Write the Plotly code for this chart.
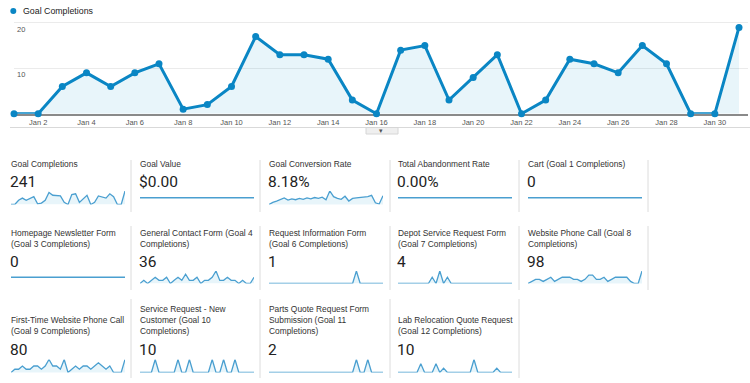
import plotly.graph_objects as go
import pandas as pd

W, H = 750, 383

# ---------------- data ----------------
dates = pd.date_range("2019-01-01", periods=31, freq="D")
goal_completions = [0, 0, 6, 9, 6, 9, 11, 1, 2, 6, 17, 13, 13, 12, 3, 0,
                    14, 15, 3, 8, 13, 0, 3, 12, 11, 9, 15, 11, 0, 0, 19]
y_tick_vals = [10, 20]
y_tick_labels = ["10", "20"]
x_tick_dates = list(dates[1::2])
x_tick_labels = ["Jan 2", "Jan 4", "Jan 6", "Jan 8", "Jan 10", "Jan 12", "Jan 14", "Jan 16",
                 "Jan 18", "Jan 20", "Jan 22", "Jan 24", "Jan 26", "Jan 28", "Jan 30"]
legend_label = "Goal Completions"

zero_series = [0, 0, 0, 0, 0, 0, 0, 0, 0, 0, 0, 0, 0, 0, 0, 0,
               0, 0, 0, 0, 0, 0, 0, 0, 0, 0, 0, 0, 0, 0, 0]
conversion_rate = [2.0, 4.5, 6.0, 7.5, 9.5, 7.0, 8.5, 7.5, 9.0, 8.0, 9.5, 8.5, 10.0, 9.0, 10.5, 7.5,
                   17.5, 11.0, 9.0, 8.0, 11.5, 6.0, 9.0, 9.5, 10.0, 10.5, 11.0, 12.5, 4.0, 2.5, 12.0]
goal4 = [0, 1, 0, 1, 2, 1, 1, 2, 0, 1, 2, 1, 3, 1, 1, 2,
         0, 1, 1, 2, 4, 1, 1, 2, 1, 1, 0, 1, 0, 0, 2]
goal6 = [0, 0, 0, 0, 0, 0, 0, 0, 0, 0, 0, 0, 0, 0, 0, 0,
         0, 0, 0, 0, 0, 0, 0, 1, 0, 0, 0, 0, 0, 0, 0]
goal7 = [0, 0, 0, 0, 0, 0, 0, 0, 0, 1, 0, 2, 0, 1, 0, 0,
         0, 0, 0, 0, 0, 0, 0, 0, 0, 0, 0, 0, 0, 0, 0]
goal8 = [1, 2, 3, 3, 2, 3, 4, 2, 3, 4, 4, 4, 3, 3, 2, 3,
         5, 5, 3, 3, 4, 2, 3, 4, 4, 4, 4, 2, 1, 1, 7]
goal9 = [1, 2, 2, 3, 2, 2, 3, 3, 2, 3, 5, 3, 3, 2, 5, 1,
         2, 3, 2, 3, 3, 2, 3, 4, 3, 2, 3, 1, 1, 1, 5]
goal10 = [0, 0, 0, 0, 1, 0, 0, 0, 0, 0, 1, 0, 0, 1, 0, 0,
          0, 0, 0, 1, 0, 0, 1, 0, 0, 1, 0, 0, 0, 0, 0]
goal11 = [0, 0, 0, 0, 0, 0, 0, 0, 0, 0, 0, 0, 0, 0, 0, 0,
          0, 0, 0, 0, 0, 0, 0, 1, 0, 0, 1, 0, 0, 0, 0]
goal12 = [0, 0, 0, 0, 0, 0, 2, 0, 0, 0, 2, 0, 1, 0, 0, 0,
          0, 0, 0, 0, 3, 0, 0, 0, 0, 0, 1, 0, 0, 0, 0]

tile_titles = [
    ["Goal Completions", "Goal Value", "Goal Conversion Rate", "Total Abandonment Rate",
     "Cart (Goal 1 Completions)"],
    ["Homepage Newsletter Form<br>(Goal 3 Completions)", "General Contact Form (Goal 4<br>Completions)",
     "Request Information Form<br>(Goal 6 Completions)", "Depot Service Request Form<br>(Goal 7 Completions)",
     "Website Phone Call (Goal 8<br>Completions)"],
    ["First-Time Website Phone Call<br>(Goal 9 Completions)", "Service Request - New<br>Customer (Goal 10<br>Completions)",
     "Parts Quote Request Form<br>Submission (Goal 11<br>Completions)", "Lab Relocation Quote Request<br>(Goal 12 Completions)"],
]
tile_values = [
    ["241", "$0.00", "8.18%", "0.00%", "0"],
    ["0", "36", "1", "4", "98"],
    ["80", "10", "2", "10"],
]
tile_series = [
    [goal_completions, zero_series, conversion_rate, zero_series, zero_series],
    [zero_series, goal4, goal6, goal7, goal8],
    [goal9, goal10, goal11, goal12],
]

# ---------------- styling / layout geometry ----------------
BLUE = "#0a86c4"
SPARK = "#4a9fd0"
FILL = "rgba(5,141,199,0.09)"


def px(x):
    return x / W


def py(y):
    return 1 - y / H


fig = go.Figure()

# main chart
fig.add_trace(go.Scatter(
    x=dates, y=goal_completions, mode="lines+markers",
    line=dict(color=BLUE, width=3), marker=dict(color=BLUE, size=7),
    fill="tozeroy", fillcolor="rgba(5,141,199,0.09)", cliponaxis=False,
    hoverinfo="x+y", showlegend=False, xaxis="x", yaxis="y"))

y_zero_px, y_ten_px = 113.7, 68.3
ppu = (y_zero_px - y_ten_px) / 10
y_top_val = 20.5
day_px = (739 - 14) / 30
x_end = dates[-1] + pd.Timedelta(hours=24 * (748 - 739) / day_px)

layout = dict(
    width=W, height=H, margin=dict(l=0, r=0, t=0, b=0),
    paper_bgcolor="white", plot_bgcolor="white", showlegend=False,
    font=dict(family="Liberation Sans, Arial", color="#333"),
    xaxis=dict(domain=[px(14), px(748)], range=[dates[0], x_end], type="date",
               tickvals=x_tick_dates, ticktext=x_tick_labels, ticks="",
               tickfont=dict(size=7.5, color="#555"), showgrid=False, zeroline=False,
               showline=True, linecolor="#8a8a8a", linewidth=1.6, layer="below traces",
               fixedrange=True),
    yaxis=dict(domain=[py(y_zero_px), py(y_zero_px - y_top_val * ppu)], range=[0, y_top_val],
               tickvals=y_tick_vals, showticklabels=False, showgrid=True, gridcolor="#ebebeb",
               gridwidth=1, zeroline=False, showline=False, fixedrange=True),
)

annotations = []
shapes = []

# y tick labels (inside, just under their gridlines)
for v, lab in zip(y_tick_vals, y_tick_labels):
    annotations.append(dict(x=px(15), y=v, xref="paper", yref="y", text=lab, showarrow=False,
                            xanchor="left", yanchor="top", yshift=0,
                            font=dict(size=7.5, color="#555")))

# legend
shapes.append(dict(type="circle", xref="paper", yref="paper", x0=px(10.3), x1=px(16.3),
                   y0=py(14), y1=py(8), fillcolor=BLUE, line=dict(width=0)))
annotations.append(dict(x=px(21), y=py(11), xref="paper", yref="paper", text=legend_label,
                        showarrow=False, xanchor="left", yanchor="middle",
                        font=dict(size=8.8, color="#222")))

# separator line under the chart and the small tab
shapes.append(dict(type="line", xref="paper", yref="paper", x0=px(10), x1=1, y0=py(127.5), y1=py(127.5),
                   line=dict(color="#d9d9d9", width=1)))
shapes.append(dict(type="rect", xref="paper", yref="paper", x0=px(366), x1=px(398), y0=py(134), y1=py(127.5),
                   fillcolor="#efefef", line=dict(color="#d6d6d6", width=1)))
annotations.append(dict(x=px(381), y=py(130.5), xref="paper", yref="paper", text="▾", showarrow=False,
                        font=dict(size=7, color="#555")))

# tiles
col_left = [10, 139, 268, 397, 527]
sep_x = [131, 260, 390, 519, 648]
row_title_bottom = [171.5, 250.5, 338]
row_value_mid = [182, 262, 350]
row_spark = [(191, 204.5), (271, 283.5), (359.5, 372.5)]
row_sep = [(160, 212), (226, 290), (299, 378)]

ax_i = 2
for r, titles in enumerate(tile_titles):
    for c, title in enumerate(titles):
        left = col_left[c]
        annotations.append(dict(x=px(left - 1), y=py(row_title_bottom[r]), xref="paper", yref="paper",
                                text=title, showarrow=False, xanchor="left", yanchor="bottom",
                                align="left", font=dict(size=8.4, color="#333")))
        annotations.append(dict(x=px(left - 2), y=py(row_value_mid[r]), xref="paper", yref="paper",
                                text=tile_values[r][c], showarrow=False, xanchor="left", yanchor="middle",
                                font=dict(family="Roboto", size=15.5, color="#222")))
        shapes.append(dict(type="line", xref="paper", yref="paper", x0=px(sep_x[c]), x1=px(sep_x[c]),
                           y0=py(row_sep[r][0]), y1=py(row_sep[r][1]), line=dict(color="#dcdcdc", width=1)))
        series = tile_series[r][c]
        smax = max(series)
        yr = [-1, 1] if smax == 0 else [min(series), smax]
        xa, ya = f"xaxis{ax_i}", f"yaxis{ax_i}"
        fig.add_trace(go.Scatter(x=dates, y=series, mode="lines", line=dict(color=SPARK, width=1.3),
                                 fill="tozeroy", fillcolor=FILL, cliponaxis=False, hoverinfo="skip",
                                 xaxis=f"x{ax_i}", yaxis=f"y{ax_i}"))
        layout[xa] = dict(domain=[px(left + 1), px(left + 115)], range=[dates[0], dates[-1]],
                          visible=False, fixedrange=True)
        layout[ya] = dict(domain=[py(row_spark[r][1]), py(row_spark[r][0])], range=yr,
                          visible=False, fixedrange=True)
        ax_i += 1

layout["annotations"] = annotations
layout["shapes"] = shapes
fig.update_layout(**layout)
fig.write_html("out.html", config={"displayModeBar": False},
               post_script="document.body.style.margin='0px';document.body.style.overflow='hidden';")
